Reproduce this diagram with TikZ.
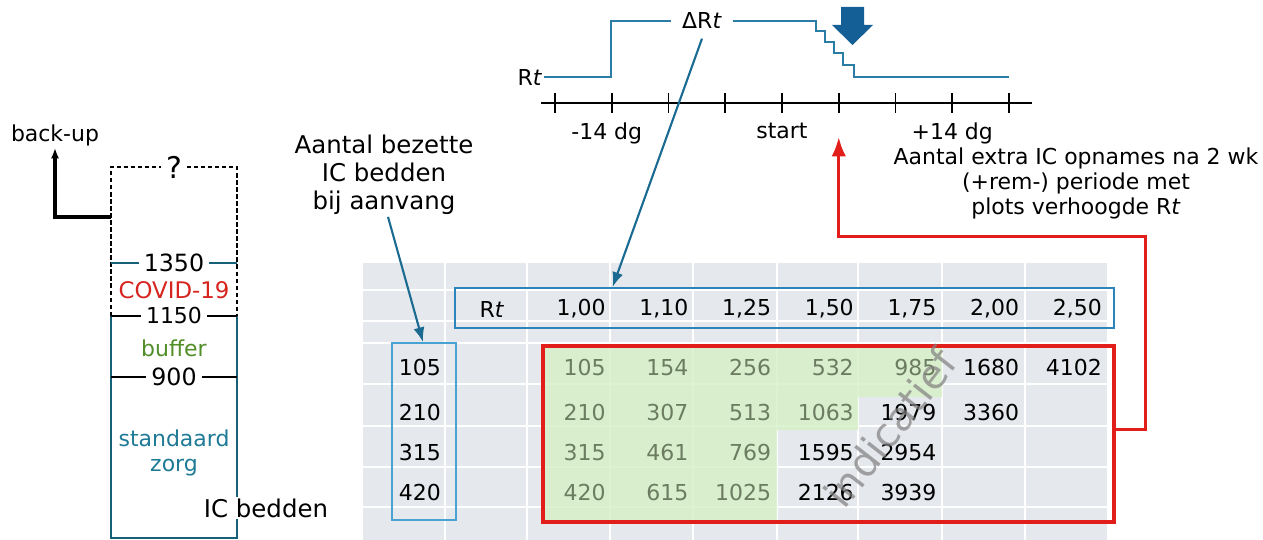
\documentclass[tikz,border=0pt]{standalone}
\usepackage{fontspec}
\setmainfont{DejaVu Sans}
\usetikzlibrary{arrows.meta,positioning,calc}
\definecolor{icteal}{RGB}{22,96,120}
\definecolor{zorgblue}{RGB}{30,122,150}
\definecolor{rtblue}{RGB}{42,126,166}
\definecolor{darkblue}{RGB}{20,96,150}
\definecolor{linkblue}{RGB}{26,106,146}
\definecolor{hdrblue}{RGB}{44,132,186}
\definecolor{rowblue}{RGB}{72,162,210}
\definecolor{covidred}{RGB}{214,36,30}
\definecolor{boxred}{RGB}{226,30,26}
\definecolor{buffergreen}{RGB}{82,142,40}
\definecolor{cellgray}{RGB}{229,232,237}
\definecolor{cellgreen}{RGB}{214,240,200}
\definecolor{numgreen}{RGB}{108,124,96}

\begin{document}
\begin{tikzpicture}[
    x=0.02cm, y=-0.02cm,
    >=Latex,
    txt/.style={font=\fontsize{12.5}{14.2}\selectfont, inner sep=1pt},
    bigtxt/.style={font=\fontsize{13.9}{15.9}\selectfont, inner sep=1pt},
    lvl/.style={txt, fill=white, inner xsep=3pt},
    cell/.style={txt, anchor=east},
    grid line/.style={white, line width=1.2pt},
    tick/.style={line width=0.9pt}
]
\useasboundingbox (0,0) rectangle (1263,540);

% IC bedden kolom
\draw[dash pattern={on 2.5pt off 1.5pt}, line width=0.8pt] (111,316) -- (111,167) -- (237,167) -- (237,316);
\node[lvl, font=\fontsize{17}{17}\selectfont] (q) at (174,167) {?};
\draw[icteal, line width=1.3pt] (111,316) -- (111,538) -- (237,538) -- (237,316);
\draw[icteal, thick] (111,263) -- (237,263);
\node[lvl, font=\fontsize{13.5}{14}\selectfont] (l1350) at (174,263) {1350};
\node[txt, text=covidred, font=\fontsize{13}{14}\selectfont] (covid) at (174,290) {COVID-19};
\draw[thick] (111,316) -- (237,316);
\node[lvl] (l1150) at (174,316) {1150};
\node[txt, text=buffergreen] (buffer) at (174,348) {buffer};
\draw[thick] (111,377) -- (237,377);
\node[lvl, font=\fontsize{13.5}{14}\selectfont] (l900) at (174,377) {900};
\node[txt, text=zorgblue, align=center] (zorg) at (174,453) {standaard\\zorg};
\node[bigtxt, fill=white, inner xsep=3pt] (icb) at (266,508) {IC bedden};
\node[txt] (backup) at (55,135) {back-up};
\coordinate (bu) at (111,217);
\draw[-{Latex[length=6pt]}, line width=1.8pt] (bu) -| (backup.south);

% tijdlijn
\node[txt] (rt) at (530,77) {R\textit{t}};
\node[txt, inner xsep=6pt] (drt) at (702,21) {ΔR\textit{t}};
\draw[rtblue, line width=1.2pt] (rt.east) -- (611,77) -- (611,21) -- (drt.west);
\draw[rtblue, line width=1.2pt] (drt.east) -- (816,21) -- (816,31) -- (825,31) -- (825,42)
    -- (834,42) -- (834,53) -- (843,53) -- (843,65) -- (854,65) -- (854,77) -- (1009,77);
\fill[darkblue] (841,7) -- (864,7) -- (864,25) -- (873,25) -- (852.5,45) -- (832,25) -- (841,25) -- cycle;
\draw[tick] (541,103) -- (1032,103);
\foreach \i in {0,...,8} {
    \coordinate (tk\i) at (555+56.75*\i,103);
    \draw[tick] (tk\i) ++(0,-10) -- ++(0,20);
}
\node[txt, below=0.35cm of tk1, xshift=-0.1cm] (min14) {-14 dg};
\node[txt, below=0.35cm of tk4] (start) {start};
\node[txt, below=0.35cm of tk7] (plus14) {+14 dg};
\coordinate (redtip) at ($(tk5)+(0,34)$);

\node[txt, align=center] (extra) at (1076,183) {Aantal extra IC opnames na 2 wk\\(+rem-) periode met\\plots verhoogde R\textit{t}};
\node[bigtxt, align=center] (bezette) at (384,175) {Aantal bezette\\IC bedden\\bij aanvang};

% tabel
\fill[cellgray] (363,263) rectangle (1107,540);
\foreach \x in {445,527,610,693,777,858,942,1025}
    \draw[grid line] (\x,263) -- (\x,540);
\foreach \y in {290,321,343,384,426,467,507}
    \draw[grid line] (363,\y) -- (1107,\y);
\fill[cellgreen, opacity=.85] (545,348) -- (942,348) -- (942,397) -- (858,397) -- (858,430)
    -- (777,430) -- (777,520) -- (545,520) -- cycle;

\node[txt] (hrt) at (492,309) {R\textit{t}};
\foreach \v [count=\i] in {{1,00},{1,10},{1,25},{1,50},{1,75},{2,00},{2,50}}
    \node[cell] (h\i) at (525+82.7*\i,309) {\v};
\foreach \v/\y [count=\i] in {105/368,210/413,315/453,420/493}
    \node[cell] (n\i) at (443,\y) {\v};
\foreach \v/\c [count=\i] in {105/numgreen,154/numgreen,256/numgreen,532/numgreen,985/numgreen,1680/black,4102/black}
    \node[cell, text=\c] (ra\i) at (525+82.7*\i,368) {\v};
\foreach \v/\c [count=\i] in {210/numgreen,307/numgreen,513/numgreen,1063/numgreen,1979/black,3360/black}
    \node[cell, text=\c] (rb\i) at (525+82.7*\i,413) {\v};
\foreach \v/\c [count=\i] in {315/numgreen,461/numgreen,769/numgreen,1595/black,2954/black}
    \node[cell, text=\c] (rc\i) at (525+82.7*\i,453) {\v};
\foreach \v/\c [count=\i] in {420/numgreen,615/numgreen,1025/numgreen,2126/black,3939/black}
    \node[cell, text=\c] (rd\i) at (525+82.7*\i,493) {\v};

\node[draw=hdrblue, line width=1.2pt, minimum width=13.18cm, minimum height=0.8cm, inner sep=0pt] (hdr) at (784.5,308) {};
\node[draw=rowblue, line width=1pt, minimum width=1.28cm, minimum height=3.54cm, inner sep=0pt] (rows) at (424,431.5) {};
\node[draw=boxred, line width=1.8pt, minimum width=11.42cm, minimum height=3.52cm, inner sep=0pt] (res) at (828.5,434) {};
\node[font=\fontsize{23}{23}\selectfont, text=gray, opacity=.7, rotate=52] (wm) at (890,428) {indicatief};

% verbindingen
\draw[->, linkblue, line width=1.2pt] ([xshift=0.08cm]bezette.south) -- ([xshift=-0.02cm]rows.north);
\draw[->, linkblue, line width=1.2pt] ([yshift=-0.15cm]drt.south) -- ($(hdr.north west)!0.24!(hdr.north east)$);
\draw[->, boxred, line width=1.8pt] ($(res.north east)!0.477!(res.south east)$) -- ++(30,0) -- ++(0,-193) -| (redtip);
\end{tikzpicture}
\end{document}
